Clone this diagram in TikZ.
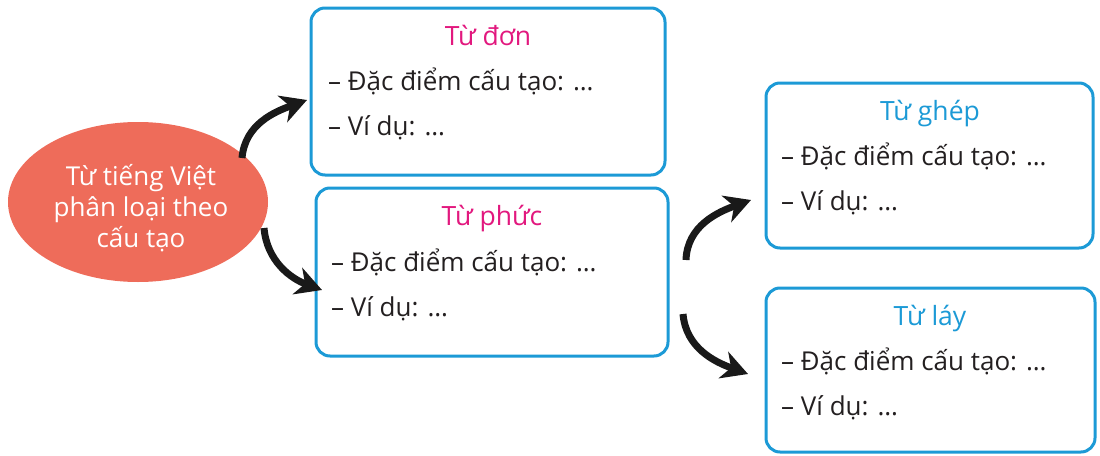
\documentclass[tikz,border=0pt]{standalone}
\usepackage{fontspec}
\setmainfont{Open Sans}
\usetikzlibrary{arrows.meta,shapes.geometric}
\definecolor{boxblue}{HTML}{1C9AD6}
\definecolor{titlepink}{HTML}{E2187E}
\definecolor{titleblue}{HTML}{1C9AD6}
\definecolor{ovalred}{HTML}{EE6C5A}
\definecolor{txt}{HTML}{231F20}
\tikzset{
  box/.style={draw=boxblue, line width=3pt, rounded corners=14pt, fill=white, inner sep=0pt},
  ttl/.style={anchor=base, font=\fontsize{26.5}{30}\selectfont, inner sep=0pt},
  line/.style={anchor=base west, font=\fontsize{26}{30}\selectfont, text=txt, inner sep=0pt},
  arr/.style={line width=7pt, draw=black!90, -{Stealth[length=26pt,width=28pt,inset=8pt]}},
}
\begin{document}
\begin{tikzpicture}[x=1pt,y=-1pt]
\useasboundingbox (0,0) rectangle (1100,455);
% oval
\node (ov) [ellipse, fill=ovalred, minimum width=260pt, minimum height=160pt, inner sep=0pt] at (138,202) {};
\node (ovt) [align=center, text=white, font=\fontsize{26}{31}\selectfont, inner sep=0pt, anchor=base] at (141,247) {Từ tiếng Việt\\phân loại theo\\cấu tạo};
% boxes
\node (b1) [box, minimum width=354pt, minimum height=167pt] at (488,91.5) {};
\node (b2) [box, minimum width=352pt, minimum height=168pt] at (492,272) {};
\node (b3) [box, minimum width=327pt, minimum height=165pt] at (929.5,165.5) {};
\node (b4) [box, minimum width=329pt, minimum height=164pt] at (930.5,370) {};
% box texts
\node (t1) [ttl, text=titlepink] at (488,45) {Từ đơn};
\node (t1a) [line] at (328,90) {– Đặc điểm cấu tạo: …};
\node (t1b) [line] at (328,135) {– Ví dụ: …};
\node (t2) [ttl, text=titlepink] at (492,225) {Từ phức};
\node (t2a) [line] at (331,271) {– Đặc điểm cấu tạo: …};
\node (t2b) [line] at (331,316) {– Ví dụ: …};
\node (t3) [ttl, text=titleblue] at (930,120) {Từ ghép};
\node (t3a) [line] at (781,165) {– Đặc điểm cấu tạo: …};
\node (t3b) [line] at (781,210) {– Ví dụ: …};
\node (t4) [ttl, text=titleblue] at (930,325) {Từ láy};
\node (t4a) [line] at (781,370) {– Đặc điểm cấu tạo: …};
\node (t4b) [line] at (781,415) {– Ví dụ: …};
% arrow end points
\coordinate (a1s) at (242,158);
\coordinate (a1e) at (307,100);
\coordinate (a2s) at (264,228);
\coordinate (a2e) at (322,290);
\coordinate (a3s) at (686,260);
\coordinate (a3e) at (751,200);
\coordinate (a4s) at (683,314);
\coordinate (a4e) at (748,374);
\draw[arr] (a1s) to[out=85, in=200] (a1e);
\draw[arr] (a2s) to[out=-85, in=160] (a2e);
\draw[arr] (a3s) to[out=88, in=200] (a3e);
\draw[arr] (a4s) to[out=-85, in=160] (a4e);
\end{tikzpicture}
\end{document}
